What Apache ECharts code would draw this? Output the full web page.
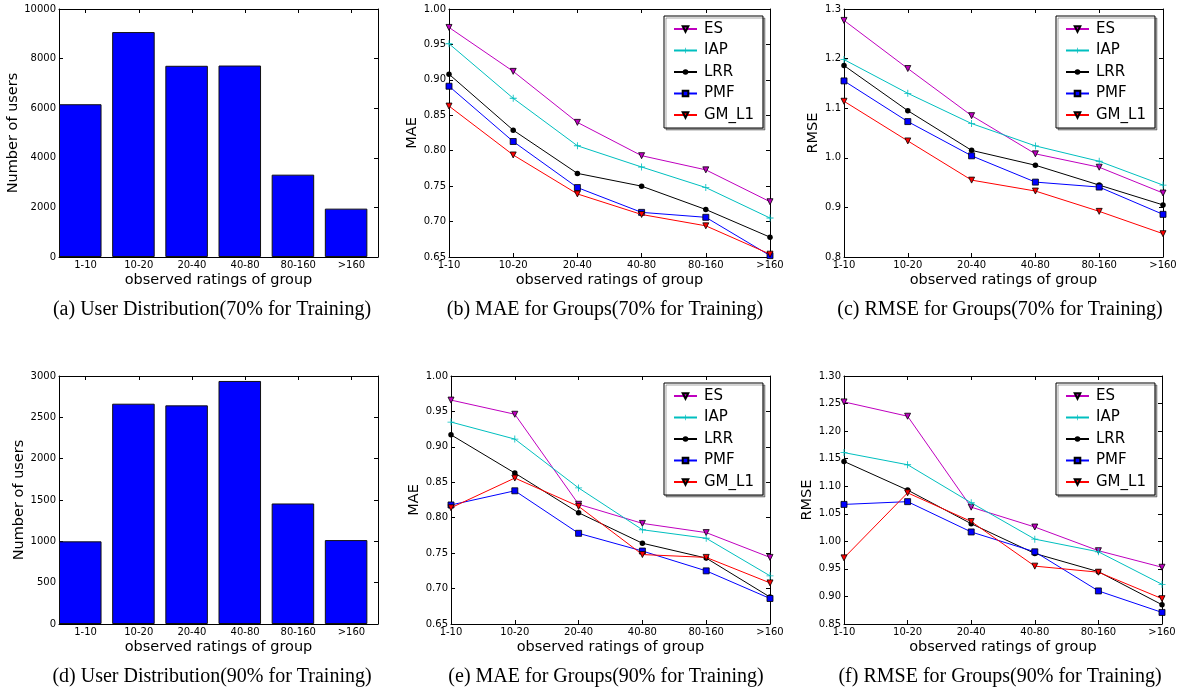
<!DOCTYPE html>
<html lang="en">
<head>
<meta charset="UTF-8">
<title>Groups</title>
<script src="https://cdn.jsdelivr.net/npm/echarts@6/dist/echarts.min.js"></script>
</head>
<body style="margin:0;background:#fff">
<div id="main" style="width:1179px;height:691px"></div>
<script>
var groups = ['1-10', '10-20', '20-40', '40-80', '80-160', '>160'];
var methods = ['ES', 'IAP', 'LRR', 'PMF', 'GM_L1'];

// number of users per group
var users70 = [6160, 9070, 7710, 7720, 3320, 1950];
var users90 = [1000, 2665, 2645, 2940, 1458, 1015];

// one row per method, same order as methods
var mae70 = [
    [0.974, 0.912, 0.840, 0.793, 0.773, 0.728],
    [0.951, 0.874, 0.807, 0.777, 0.748, 0.705],
    [0.908, 0.829, 0.768, 0.750, 0.717, 0.678],
    [0.891, 0.813, 0.748, 0.713, 0.706, 0.652],
    [0.863, 0.794, 0.739, 0.710, 0.694, 0.654]
];
var rmse70 = [
    [1.277, 1.180, 1.085, 1.008, 0.981, 0.929],
    [1.198, 1.130, 1.069, 1.024, 0.993, 0.945],
    [1.186, 1.095, 1.015, 0.985, 0.945, 0.905],
    [1.155, 1.073, 1.004, 0.951, 0.941, 0.886],
    [1.114, 1.034, 0.955, 0.933, 0.892, 0.847]
];
var mae90 = [
    [0.966, 0.946, 0.819, 0.792, 0.779, 0.744],
    [0.935, 0.911, 0.842, 0.783, 0.771, 0.718],
    [0.917, 0.863, 0.807, 0.764, 0.743, 0.688],
    [0.818, 0.838, 0.778, 0.753, 0.725, 0.686],
    [0.814, 0.856, 0.816, 0.748, 0.744, 0.708]
];
var rmse90 = [
    [1.253, 1.227, 1.062, 1.026, 0.983, 0.953],
    [1.161, 1.139, 1.070, 1.004, 0.981, 0.922],
    [1.145, 1.093, 1.032, 0.978, 0.945, 0.885],
    [1.067, 1.072, 1.017, 0.981, 0.910, 0.871],
    [0.970, 1.088, 1.036, 0.955, 0.944, 0.896]
];

// marker / colour per method (matplotlib m, c, k, b, r)
var methodStyle = [
    {color: '#bf00bf', symbol: 'triangle', rotate: 180, size: 6, border: 0.8},
    {color: '#00bfbf', symbol: 'path://M0,4.4H10V5.6H0Z M4.4,0H5.6V10H4.4Z', rotate: 0, size: 7, border: 0},
    {color: '#000000', symbol: 'circle', rotate: 0, size: 5.5, border: 0},
    {color: '#0000ff', symbol: 'rect', rotate: 0, size: 6, border: 0.8},
    {color: '#ff0000', symbol: 'triangle', rotate: 180, size: 6, border: 0.8}
];

var panels = [
    {bar: users70, left: 59, top: 9, width: 319, yName: 'Number of users', yGap: 34, xGap: 16, min: 0, max: 10000, step: 2000, dec: 0,
        caption: '(a) User Distribution(70% for Training)', cx: 212, cy: 310},
    {lines: mae70, left: 449, top: 9, width: 321, yName: 'MAE', yGap: 26, xGap: 16, min: 0.65, max: 1.0, step: 0.05, dec: 2,
        caption: '(b) MAE for Groups(70% for Training)', cx: 605, cy: 310, lgLeft: 664, lgTop: 16},
    {lines: rmse70, left: 844, top: 9, width: 319, yName: 'RMSE', yGap: 22.5, xGap: 16, min: 0.8, max: 1.3, step: 0.1, dec: 1,
        caption: '(c) RMSE for Groups(70% for Training)', cx: 1000, cy: 310, lgLeft: 1056, lgTop: 16},
    {bar: users90, left: 59, top: 376, width: 319, yName: 'Number of users', yGap: 30, xGap: 15.5, min: 0, max: 3000, step: 500, dec: 0,
        caption: '(d) User Distribution(90% for Training)', cx: 212, cy: 677},
    {lines: mae90, left: 451, top: 376, width: 319, yName: 'MAE', yGap: 28.5, xGap: 15.5, min: 0.65, max: 1.0, step: 0.05, dec: 2,
        caption: '(e) MAE for Groups(90% for Training)', cx: 606, cy: 677, lgLeft: 664, lgTop: 383},
    {lines: rmse90, left: 844, top: 376, width: 318, yName: 'RMSE', yGap: 29, xGap: 15.5, min: 0.85, max: 1.3, step: 0.05, dec: 2,
        caption: '(f) RMSE for Groups(90% for Training)', cx: 1000, cy: 677, lgLeft: 1056, lgTop: 383}
];

var SANS = '"DejaVu Sans", sans-serif';
var myChart = echarts.init(document.getElementById('main'));

var option = {
    animation: false,
    backgroundColor: '#fff',
    grid: [], xAxis: [], yAxis: [], series: [], legend: [], graphic: []
};

var axisLine = {show: true, onZero: false, lineStyle: {color: '#000', width: 1}};
var axisTick = {show: true, inside: true, length: 4, alignWithLabel: true, lineStyle: {color: '#000', width: 1}};

panels.forEach(function (p, i) {
    var isBar = !!p.bar;
    option.grid.push({left: p.left, top: p.top, width: p.width, height: 248, containLabel: false, outerBoundsMode: 'none'});

    // bottom + top x axes
    option.xAxis.push({
        type: 'category', gridIndex: i, data: groups, boundaryGap: isBar, position: 'bottom',
        axisLine: axisLine, axisTick: axisTick, splitLine: {show: false},
        axisLabel: {interval: 0, margin: 3, fontSize: 10, color: '#000', fontFamily: SANS},
        name: 'observed ratings of group', nameLocation: 'middle', nameGap: p.xGap,
        nameTextStyle: {fontSize: 14.5, color: '#000', fontFamily: SANS}
    });
    option.xAxis.push({
        type: 'category', gridIndex: i, data: groups, boundaryGap: isBar, position: 'top',
        axisLine: axisLine, axisTick: axisTick, splitLine: {show: false}, axisLabel: {show: false}
    });

    // left + right y axes
    option.yAxis.push({
        type: 'value', gridIndex: i, position: 'left', min: p.min, max: p.max, interval: p.step,
        axisLine: axisLine, axisTick: axisTick, splitLine: {show: false},
        axisLabel: {margin: 3, fontSize: 10, color: '#000', fontFamily: SANS,
            formatter: function (v) { return v.toFixed(p.dec); }},
        name: p.yName, nameLocation: 'middle', nameGap: p.yGap,
        nameTextStyle: {fontSize: 14.5, color: '#000', fontFamily: SANS}
    });
    option.yAxis.push({
        type: 'value', gridIndex: i, position: 'right', min: p.min, max: p.max, interval: p.step,
        axisLine: axisLine, axisTick: axisTick, splitLine: {show: false}, axisLabel: {show: false}
    });

    if (isBar) {
        option.series.push({
            type: 'bar', name: 'users', xAxisIndex: 2 * i, yAxisIndex: 2 * i,
            data: p.bar, barWidth: '80%', barGap: '0%',
            itemStyle: {color: '#0000ff', borderColor: '#111', borderWidth: 1}
        });
        // empty bar that takes the last 20% of each band, so bars sit at the left like matplotlib
        option.series.push({
            type: 'bar', name: 'pad', xAxisIndex: 2 * i, yAxisIndex: 2 * i,
            data: [], barWidth: '20%', barGap: '0%', silent: true
        });
    } else {
        p.lines.forEach(function (row, k) {
            var st = methodStyle[k];
            option.series.push({
                type: 'line', name: methods[k], xAxisIndex: 2 * i, yAxisIndex: 2 * i,
                data: row, symbol: st.symbol, symbolSize: st.size, symbolRotate: st.rotate,
                showSymbol: true, z: 2 + k,
                lineStyle: {color: st.color, width: 1},
                itemStyle: {color: st.color, borderColor: '#000', borderWidth: st.border}
            });
        });
        option.legend.push({
            data: methods, orient: 'vertical', left: p.lgLeft, top: p.lgTop,
            itemWidth: 23, itemHeight: 7, itemGap: 6.5,
            padding: [5.5, 9, 5.5, 9],
            backgroundColor: '#fff', borderColor: '#000', borderWidth: 1, borderRadius: 0,
            shadowColor: 'rgba(0,0,0,0.35)', shadowOffsetX: 2, shadowOffsetY: 2, shadowBlur: 0,
            selectedMode: false,
            textStyle: {fontSize: 15, lineHeight: 15, color: '#000', fontFamily: SANS, padding: [0, 0, 0, 2]}
        });
    }

    option.graphic.push({
        type: 'text', x: p.cx, y: p.cy,
        style: {text: p.caption, font: '20px "Liberation Serif", "Times New Roman", serif',
            fill: '#000', align: 'center', verticalAlign: 'middle'}
    });
});

myChart.setOption(option);
</script>
</body>
</html>
